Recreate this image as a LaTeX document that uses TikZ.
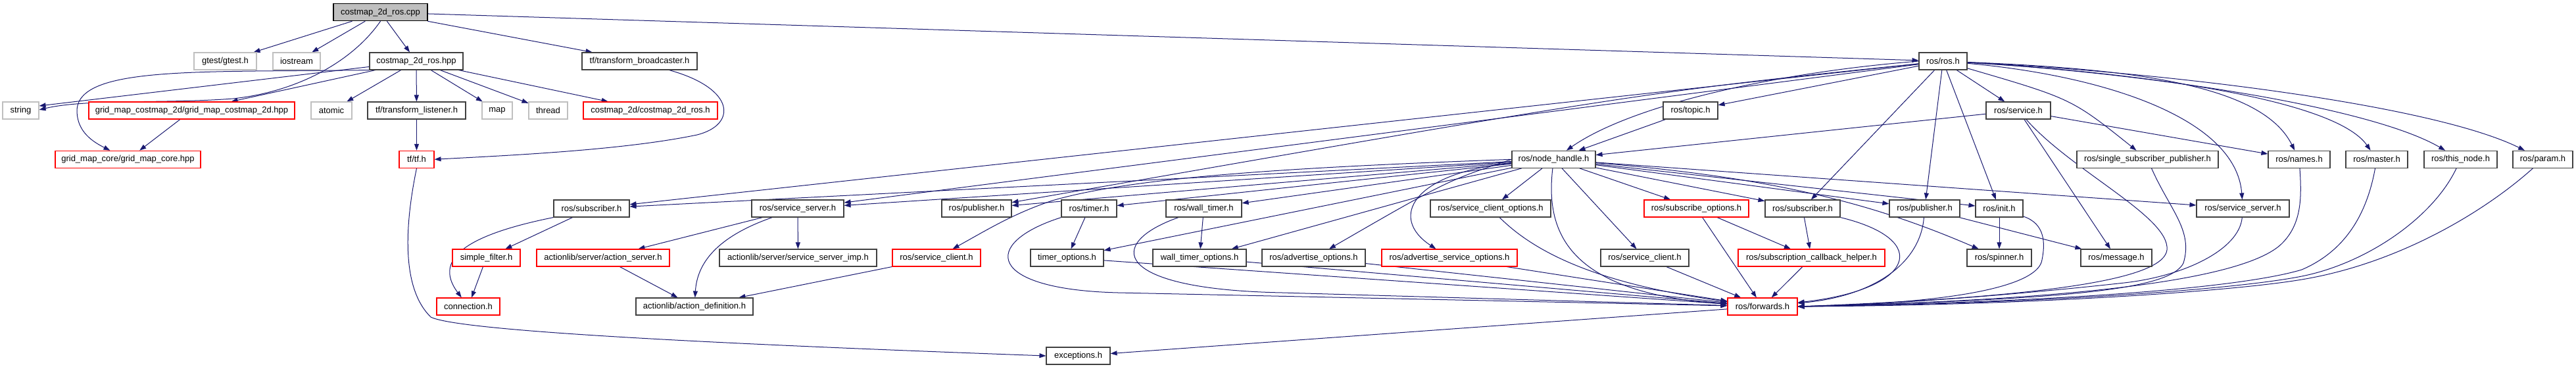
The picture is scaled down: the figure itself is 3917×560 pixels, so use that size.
\documentclass[tikz,border=0pt]{standalone}
\usepackage{fontspec}
\setmainfont{Liberation Sans}
\usepackage{tikz}
\usetikzlibrary{arrows.meta}
\definecolor{edgeblue}{HTML}{191970}
\pgfdeclarelayer{background}
\pgfsetlayers{background,main}

\begin{document}
\begin{tikzpicture}[
				x=1pt, y=1pt,
				hdr/.style = {draw=black!75, line width=1.1pt, fill=white, minimum height=26pt,
					inner xsep=3pt, inner ysep=0pt, font=\fontsize{13}{15}\selectfont},
				syshdr/.style = {hdr, draw=black!25},
				redhdr/.style = {hdr, draw=red},
				srcfile/.style = {hdr, draw=black, fill=black!25},
				dep/.style = {draw=edgeblue, line width=1pt, -{Triangle[length=10pt,width=7pt]}}
			]
				\useasboundingbox (0,0) rectangle (3917,-560);
				\node[srcfile, minimum width=143pt] (cpp) at (578.5,-18.7) {costmap\_2d\_ros.cpp};
				%
				\node[syshdr, minimum width=95pt]  (gtest)    at (342.5,-93) {gtest/gtest.h};
				\node[syshdr, minimum width=72pt]  (iostream) at (451,-93)   {iostream};
				\node[hdr, minimum width=142pt]    (hpp)      at (633,-93)   {costmap\_2d\_ros.hpp};
				\node[hdr, minimum width=175pt]    (tfbroad)  at (972.5,-93) {tf/transform\_broadcaster.h};
				\node[hdr, minimum width=73pt]     (rosh)     at (2954.5,-93) {ros/ros.h};
				%
				\node[syshdr, minimum width=55pt]  (string)   at (31.5,-168)  {string};
				\node[redhdr, minimum width=313pt] (gmcd)     at (291.5,-168) {grid\_map\_costmap\_2d/grid\_map\_costmap\_2d.hpp};
				\node[syshdr, minimum width=62pt]  (atomic)   at (504,-168)   {atomic};
				\node[hdr, minimum width=149pt]    (tflisten) at (633.5,-168) {tf/transform\_listener.h};
				\node[syshdr, minimum width=46pt]  (map)      at (756,-168)   {map};
				\node[syshdr, minimum width=59pt]  (thread)   at (833.5,-168) {thread};
				\node[redhdr, minimum width=204pt] (cdros)    at (989,-168)   {costmap\_2d/costmap\_2d\_ros.h};
				\node[hdr, minimum width=83pt]     (topic)    at (2570.5,-168) {ros/topic.h};
				\node[hdr, minimum width=98pt]     (service)  at (3069,-168)  {ros/service.h};
				%
				\node[redhdr, minimum width=221pt] (gmcore)   at (194.5,-242.3) {grid\_map\_core/grid\_map\_core.hpp};
				\node[redhdr, minimum width=53pt]  (tftf)     at (633.5,-242.3) {tf/tf.h};
				\node[hdr, minimum width=127pt]    (nh)       at (2362.5,-242.3) {ros/node\_handle.h};
				\node[hdr, minimum width=215pt]    (ssp)      at (3265.5,-242.3) {ros/single\_subscriber\_publisher.h};
				\node[hdr, minimum width=94pt]     (names)    at (3496,-242.3)   {ros/names.h};
				\node[hdr, minimum width=94pt]     (master)   at (3614,-242.3)   {ros/master.h};
				\node[hdr, minimum width=111pt]    (thisnode) at (3741.5,-242.3) {ros/this\_node.h};
				\node[hdr, minimum width=91pt]     (param)    at (3866.5,-242.3) {ros/param.h};
				%
				\node[hdr, minimum width=115pt]    (subA)     at (899.5,-317)  {ros/subscriber.h};
				\node[hdr, minimum width=140pt]    (ssA)      at (1213,-317)   {ros/service\_server.h};
				\node[hdr, minimum width=106pt]    (pubA)     at (1485,-317)   {ros/publisher.h};
				\node[hdr, minimum width=84pt]     (timer)    at (1656,-317)   {ros/timer.h};
				\node[hdr, minimum width=115pt]    (wtimer)   at (1830.5,-317) {ros/wall\_timer.h};
				\node[hdr, minimum width=183pt]    (scopts)   at (2266.5,-317) {ros/service\_client\_options.h};
				\node[redhdr, minimum width=159pt] (subopts)  at (2579.5,-317) {ros/subscribe\_options.h};
				\node[hdr, minimum width=114pt]    (subB)     at (2741,-317)   {ros/subscriber.h};
				\node[hdr, minimum width=107pt]    (pubB)     at (2926.5,-317) {ros/publisher.h};
				\node[hdr, minimum width=72pt]     (init)     at (3040,-317)   {ros/init.h};
				\node[hdr, minimum width=141pt]    (ssB)      at (3410.5,-317) {ros/service\_server.h};
				%
				\node[redhdr, minimum width=103pt] (sfilter)  at (739.5,-392)  {simple\_filter.h};
				\node[redhdr, minimum width=202pt] (aserver)  at (917,-392)    {actionlib/server/action\_server.h};
				\node[hdr, minimum width=239pt]    (ssimp)    at (1213.5,-392) {actionlib/server/service\_server\_imp.h};
				\node[redhdr, minimum width=134pt] (scR)      at (1424,-392)   {ros/service\_client.h};
				\node[hdr, minimum width=111pt]    (topts)    at (1622.5,-392) {timer\_options.h};
				\node[hdr, minimum width=142pt]    (wtopts)   at (1824,-392)   {wall\_timer\_options.h};
				\node[hdr, minimum width=157pt]    (aopts)    at (1997.5,-392) {ros/advertise\_options.h};
				\node[redhdr, minimum width=206pt] (asopts)   at (2204,-392)   {ros/advertise\_service\_options.h};
				\node[hdr, minimum width=134pt]    (scB)      at (2501,-392)   {ros/service\_client.h};
				\node[redhdr, minimum width=223pt] (scbh)     at (2754.5,-392) {ros/subscription\_callback\_helper.h};
				\node[hdr, minimum width=98pt]     (spinner)  at (3040,-392)   {ros/spinner.h};
				\node[hdr, minimum width=108pt]    (message)  at (3218,-392)   {ros/message.h};
				%
				\node[redhdr, minimum width=96pt]  (conn)     at (712,-466)    {connection.h};
				\node[hdr, minimum width=178pt]    (adef)     at (1056,-466)   {actionlib/action\_definition.h};
				\node[redhdr, minimum width=106pt] (fwd)      at (2680,-466)   {ros/forwards.h};
				%
				\node[hdr, minimum width=97pt]     (exc)      at (1639.5,-541) {exceptions.h};

				\begin{pgfonlayer}{background}
				% costmap_2d_ros.cpp
				\draw[dep] (cpp) -- (gtest);
				\draw[dep] (cpp) -- (iostream);
				\draw[dep] (cpp) -- (hpp);
				\draw[dep] (cpp) -- (tfbroad);
				\draw[dep] (cpp) -- (rosh);
				\draw[dep] (cpp.south) .. controls (535,-95) and (450,-140) .. (354,-150) .. controls (250,-158) and (130,-150) .. ([yshift=1pt]string.east);
				% costmap_2d_ros.hpp
				\draw[dep] (hpp) -- ([yshift=7pt]string.east);
				\draw[dep] (hpp) -- ([xshift=60pt]gmcd.north);
				\draw[dep] (hpp.south west) .. controls (300,-110) and (115,-100) .. (117,-170) .. controls (118,-200) and (140,-215) .. (gmcore);
				\draw[dep] (hpp) -- (atomic);
				\draw[dep] (hpp) -- (tflisten);
				\draw[dep] (hpp) -- (map);
				\draw[dep] (hpp) -- (thread);
				\draw[dep] (hpp) -- (cdros);
				\draw[dep] (gmcd) -- (gmcore);
				% tf
				\draw[dep] (tflisten) -- (tftf);
				\draw[dep] ([xshift=45pt]tfbroad.south) .. controls (1120,-135) and (1120,-190) .. (1060,-205) .. controls (950,-228) and (780,-236) .. (tftf.east);
				\draw[dep] (tftf.south) .. controls (614,-350) and (612,-440) .. (655,-482) .. controls (700,-505) and (1150,-525) .. (exc.west);
				% ros.h
				\draw[dep] (rosh) -- (topic);
				\draw[dep] (rosh) -- (service);
				\draw[dep] (rosh.west) .. controls (2700,-110) and (2480,-160) .. (nh);
				\draw[dep] (rosh) .. controls (3150,-150) .. (ssp);
				\draw[dep] (rosh) .. controls (3250,-105) and (3440,-130) .. (names);
				\draw[dep] (rosh) .. controls (3250,-110) and (3550,-150) .. (master);
				\draw[dep] (rosh) .. controls (3250,-110) and (3600,-160) .. (thisnode);
				\draw[dep] (rosh) .. controls (3300,-110) and (3700,-160) .. (param);
				\draw[dep] (rosh) .. controls (3200,-115) and (3400,-180) .. (ssB);
				\draw[dep] (rosh) -- (subB);
				\draw[dep] (rosh) -- (pubB);
				\draw[dep] (rosh) -- (init);
				\draw[dep] (rosh) -- (subA);
				\draw[dep] (rosh) -- (ssA);
				\draw[dep] (rosh) .. controls (2500,-140) .. (pubA);
				% topic.h, service.h
				\draw[dep] (topic) -- (nh);
				\draw[dep] (service) -- (nh);
				\draw[dep] (service) -- (names);
				\draw[dep] (service) -- (message);
				\draw[dep] (service) .. controls (3150,-260) and (3300,-330) .. (3295,-380) .. controls (3290,-420) and (3150,-450) .. (fwd.east);
				% node_handle.h
				\draw[dep] (nh) -- (subA);
				\draw[dep] (nh) -- (ssA);
				\draw[dep] (nh) -- (pubA);
				\draw[dep] (nh.west) .. controls (1950,-255) and (1720,-270) .. (1600,-305) .. controls (1540,-325) and (1500,-350) .. (scR);
				\draw[dep] (nh) -- (timer);
				\draw[dep] (nh) -- (topts);
				\draw[dep] (nh) -- (wtimer);
				\draw[dep] (nh) -- (wtopts);
				\draw[dep] (nh.west) .. controls (2200,-275) .. (aopts);
				\draw[dep] (nh) .. controls (2150,-262) and (2110,-330) .. (asopts);
				\draw[dep] (nh) -- (scopts);
				\draw[dep] (nh) -- (scB);
				\draw[dep] (nh) -- (subopts);
				\draw[dep] (nh) -- (subB);
				\draw[dep] (nh) -- (pubB);
				\draw[dep] (nh) -- (init);
				\draw[dep] (nh) .. controls (2700,-270) and (2850,-310) .. (spinner);
				\draw[dep] (nh) -- (ssB);
				\draw[dep] (nh) .. controls (2350,-350) and (2380,-445) .. (fwd);
				% left branch
				\draw[dep] (subA) -- (sfilter);
				\draw[dep] (subA.south west) .. controls (720,-355) and (655,-390) .. (conn);
				\draw[dep] (sfilter) -- (conn);
				\draw[dep] (ssA) -- (aserver);
				\draw[dep] (ssA) -- (ssimp);
				\draw[dep] (ssA) .. controls (1090,-360) and (1060,-400) .. (adef);
				\draw[dep] (aserver) -- (adef);
				\draw[dep] (scR) -- (adef);
				% timers and options
				\draw[dep] (timer) -- (topts);
				\draw[dep] (timer) .. controls (1490,-370) and (1500,-440) .. (1700,-445) -- (fwd);
				\draw[dep] (wtimer) -- (wtopts);
				\draw[dep] (wtimer) .. controls (1680,-370) and (1690,-440) .. (1950,-445) -- (fwd);
				\draw[dep] (topts) -- (fwd);
				\draw[dep] (wtopts) -- (fwd);
				\draw[dep] (aopts) -- (fwd);
				\draw[dep] (asopts) -- (fwd);
				\draw[dep] (scopts) .. controls (2330,-380) and (2420,-430) .. (fwd);
				\draw[dep] (scB) -- (fwd);
				\draw[dep] (subopts) -- (scbh);
				\draw[dep] (subopts) -- (fwd);
				\draw[dep] (subB) -- (scbh);
				\draw[dep] (subB.south east) .. controls (2940,-365) and (2910,-440) .. (fwd);
				\draw[dep] (scbh) -- (fwd);
				\draw[dep] (pubB) -- (message);
				\draw[dep] (pubB) .. controls (2920,-400) and (2850,-450) .. (fwd);
				\draw[dep] (init) -- (spinner);
				\draw[dep] (init) .. controls (3110,-340) and (3110,-370) .. (3105,-395) .. controls (3100,-430) and (3000,-460) .. (fwd.east);
				% right side into forwards.h
				\draw[dep] (ssB) .. controls (3405,-380) and (3320,-420) .. (3230,-430) .. controls (3050,-450) and (2850,-464) .. (fwd.east);
				\draw[dep] (ssp) .. controls (3300,-320) and (3335,-350) .. (3320,-400) .. controls (3300,-440) and (3150,-455) .. (fwd.east);
				\draw[dep] (names) .. controls (3500,-300) and (3500,-340) .. (3470,-370) .. controls (3420,-420) and (3200,-455) .. (fwd.east);
				\draw[dep] (master) .. controls (3600,-320) and (3570,-380) .. (3500,-410) .. controls (3400,-440) and (3100,-460) .. (fwd.east);
				\draw[dep] (thisnode) .. controls (3700,-330) and (3600,-400) .. (3500,-420) .. controls (3400,-440) and (3100,-462) .. (fwd.east);
				\draw[dep] (param) .. controls (3780,-320) and (3650,-400) .. (3500,-425) .. controls (3400,-442) and (3100,-464) .. (fwd.east);
				% forwards.h
				\draw[dep] (fwd) -- (exc);
				\end{pgfonlayer}

			\end{tikzpicture}
\end{document}
